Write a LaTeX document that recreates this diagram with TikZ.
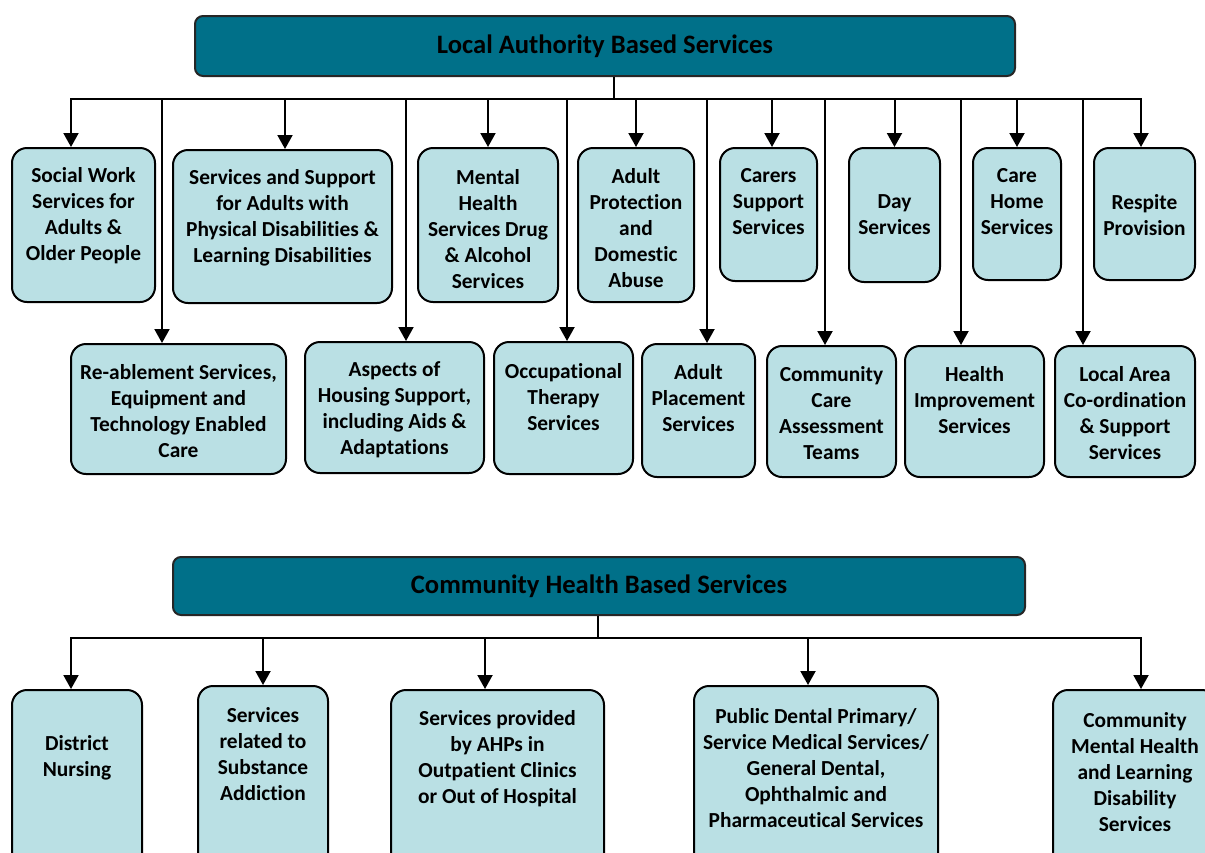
\documentclass[tikz,border=0pt]{standalone}
\usepackage{fontspec}
\setmainfont{Carlito}[Ligatures=NoCommon]
\usetikzlibrary{arrows.meta}
\definecolor{headteal}{RGB}{0,112,137}
\definecolor{boxblue}{RGB}{186,224,228}

\begin{document}
\begin{tikzpicture}[x=0.5pt, y=-0.5pt,
    head/.style={draw=black!85, line width=1pt, fill=headteal, rounded corners=4pt,
      font=\fontsize{13.3}{16}\selectfont\bfseries},
    svc/.style={draw=black, line width=1pt, fill=boxblue, rounded corners=7.5pt},
    txt/.style={align=center, inner sep=0pt, font=\fontsize{10.7}{13}\selectfont\bfseries},
    arr/.style={line width=1pt, -{Triangle[width=7.5pt,length=7pt]}}]
    \def\u{0.5pt}
    \clip (0,0) rectangle (1205,852);
    % local authority
    \node[head, minimum width=820*\u, minimum height=60*\u] (H0) at (605,46) {Local Authority Based Services};
    \coordinate (B0) at (614,99);
    \node[svc, minimum width=143*\u, minimum height=154*\u] (T0_0) at (83.5,225) {};
    \node[svc, minimum width=219*\u, minimum height=153*\u] (T0_1) at (282.5,226.5) {};
    \node[svc, minimum width=140*\u, minimum height=154*\u] (T0_2) at (488,225) {};
    \node[svc, minimum width=116*\u, minimum height=154*\u] (T0_3) at (636,225) {};
    \node[svc, minimum width=97*\u, minimum height=133*\u] (T0_4) at (768.5,214.5) {};
    \node[svc, minimum width=91*\u, minimum height=134*\u] (T0_5) at (894.5,215) {};
    \node[svc, minimum width=88*\u, minimum height=132*\u] (T0_6) at (1017,214) {};
    \node[svc, minimum width=101*\u, minimum height=132*\u] (T0_7) at (1144.5,214) {};
    \node[svc, minimum width=215*\u, minimum height=130*\u] (T1_0) at (178.5,409) {};
    \node[svc, minimum width=179*\u, minimum height=131*\u] (T1_1) at (394.5,407.5) {};
    \node[svc, minimum width=139*\u, minimum height=132*\u] (T1_2) at (563.5,408) {};
    \node[svc, minimum width=113*\u, minimum height=133*\u] (T1_3) at (698.5,410.5) {};
    \node[svc, minimum width=129*\u, minimum height=131*\u] (T1_4) at (831.5,411.5) {};
    \node[svc, minimum width=139*\u, minimum height=131*\u] (T1_5) at (974.5,411.5) {};
    \node[svc, minimum width=140*\u, minimum height=131*\u] (T1_6) at (1125,411.5) {};
    \node[txt] (T0_0t) at (83.5,216) {Social Work\\Services for\\Adults \&\\Older People};
    \node[txt] (T0_1t) at (282.5,218) {Services and Support\\for Adults with\\Physical Disabilities \&\\Learning Disabilities};
    \node[txt] (T0_2t) at (488,229) {Mental\\Health\\Services Drug\\\& Alcohol\\Services};
    \node[txt] (T0_3t) at (636,228) {Adult\\Protection\\and\\Domestic\\Abuse};
    \node[txt] (T0_4t) at (768.5,202) {Carers\\Support\\Services};
    \node[txt] (T0_5t) at (894.5,215) {Day\\Services};
    \node[txt] (T0_6t) at (1017,202) {Care\\Home\\Services};
    \node[txt] (T0_7t) at (1144.5,215) {Respite\\Provision};
    \node[txt] (T1_0t) at (178.5,411) {Re-ablement Services,\\Equipment and\\Technology Enabled\\Care};
    \node[txt] (T1_1t) at (394.5,410) {Aspects of\\Housing Support,\\including Aids \&\\Adaptations};
    \node[txt] (T1_2t) at (563.5,397) {Occupational\\Therapy\\Services};
    \node[txt] (T1_3t) at (698.5,398) {Adult\\Placement\\Services};
    \node[txt] (T1_4t) at (831.5,413) {Community\\Care\\Assessment\\Teams};
    \node[txt] (T1_5t) at (974.5,400) {Health\\Improvement\\Services};
    \node[txt] (T1_6t) at (1125,413) {Local Area\\Co-ordination\\\& Support\\Services};
    \draw[line width=1pt] (H0.south -| B0) -- (B0);
    \draw[arr] (B0) -| ([xshift=-6.25pt]T0_0.north);
    \draw[arr] (B0) -| ([xshift=1.25pt]T0_1.north);
    \draw[arr] (B0) -| (T0_2.north);
    \draw[arr] (B0) -| (T0_3.north);
    \draw[arr] (B0) -| ([xshift=1.75pt]T0_4.north);
    \draw[arr] (B0) -| (T0_5.north);
    \draw[arr] (B0) -| (T0_6.north);
    \draw[arr] (B0) -| ([xshift=-1.75pt]T0_7.north);
    \draw[arr] (B0) -| ([xshift=-8.25pt]T1_0.north);
    \draw[arr] (B0) -| ([xshift=5.75pt]T1_1.north);
    \draw[arr] (B0) -| ([xshift=1.75pt]T1_2.north);
    \draw[arr] (B0) -| ([xshift=4.25pt]T1_3.north);
    \draw[arr] (B0) -| ([xshift=-3.25pt]T1_4.north);
    \draw[arr] (B0) -| ([xshift=-6.75pt]T1_5.north);
    \draw[arr] (B0) -| ([xshift=-21pt]T1_6.north);
    % community health
    \node[head, minimum width=852*\u, minimum height=58*\u] (H1) at (599,586) {Community Health Based Services};
    \coordinate (B1) at (598,638);
    \node[svc, minimum width=130*\u, minimum height=190*\u] (C0_0) at (77,785) {};
    \node[svc, minimum width=130*\u, minimum height=194*\u] (C0_1) at (263,783) {};
    \node[svc, minimum width=213*\u, minimum height=190*\u] (C0_2) at (497.5,785) {};
    \node[svc, minimum width=244*\u, minimum height=194*\u] (C0_3) at (816,783) {};
    \node[svc, minimum width=164*\u, minimum height=190*\u] (C0_4) at (1135,785) {};
    \node[txt] (C0_0t) at (77,758) {District\\Nursing};
    \node[txt] (C0_1t) at (263,754) {Services\\related to\\Substance\\Addiction};
    \node[txt] (C0_2t) at (497.5,759) {Services provided\\by AHPs in\\Outpatient Clinics\\or Out of Hospital};
    \node[txt] (C0_3t) at (816,768) {Public Dental Primary/\\Service Medical Services/\\General Dental,\\Ophthalmic and\\Pharmaceutical Services};
    \node[txt] (C0_4t) at (1135,772) {Community\\Mental Health\\and Learning\\Disability\\Services};
    \draw[line width=1pt] (H1.south -| B1) -- (B1);
    \draw[arr] (B1) -| ([xshift=-3pt]C0_0.north);
    \draw[arr] (B1) -| (C0_1.north);
    \draw[arr] (B1) -| ([xshift=-6.25pt]C0_2.north);
    \draw[arr] (B1) -| ([xshift=-4pt]C0_3.north);
    \draw[arr] (B1) -| ([xshift=3pt]C0_4.north);
\end{tikzpicture}
\end{document}
